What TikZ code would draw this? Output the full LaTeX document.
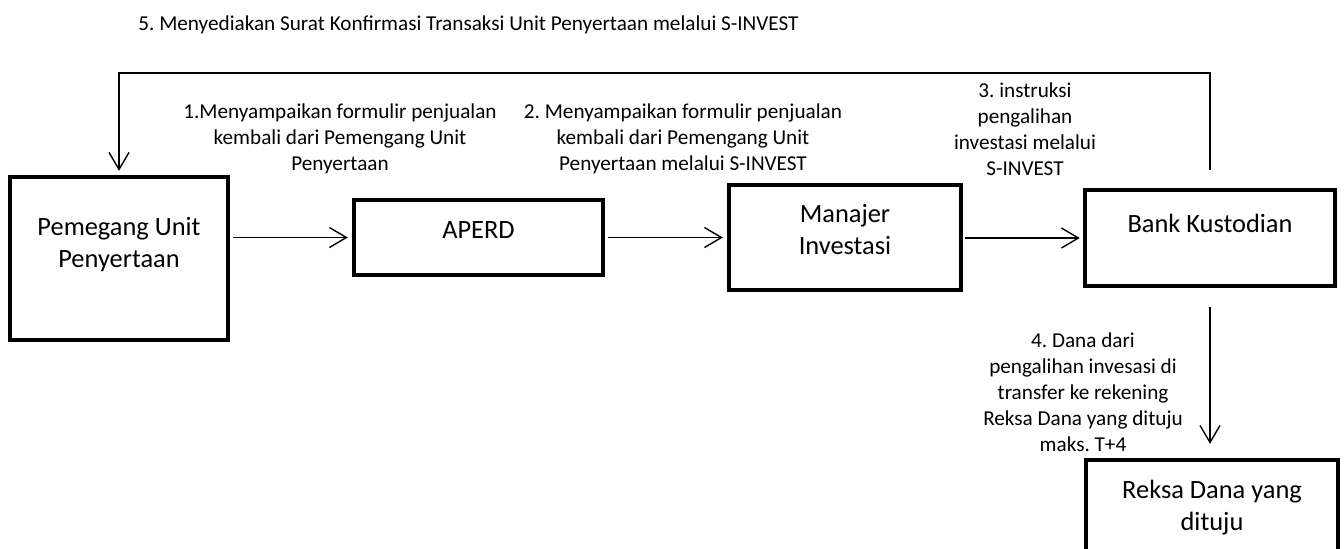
\documentclass[tikz,border=0pt]{standalone}
\usepackage{fontspec}
\setmainfont{Carlito}
\usetikzlibrary{arrows.meta,positioning}
\frenchspacing

\tikzset{
  box/.style={draw, line width=2.2pt, inner sep=0pt},
  boxtext/.style={align=center, font=\fontsize{13.2pt}{16pt}\selectfont},
  note/.style={align=center, font=\fontsize{10.6pt}{13pt}\selectfont, inner sep=0pt},
  arr/.style={-{Straight Barb[length=8.5pt,width=10pt]}, line width=0.7pt}
}

\begin{document}
\begin{tikzpicture}[x=0.5pt,y=-0.5pt]
\clip (0,0) rectangle (1344,548);

% boxes
\node[box, minimum width=109pt, minimum height=81.5pt, label={[boxtext,yshift=7pt]center:Pemegang Unit\\Penyertaan}] (peg) at (119,258.5) {};
\node[box, minimum width=124.5pt, minimum height=37.5pt, label={[boxtext,yshift=3.5pt]center:APERD}] (aperd) at (478.5,237.5) {};
\node[box, minimum width=116pt, minimum height=52.5pt, label={[boxtext,yshift=3.75pt]center:Manajer\\Investasi}] (mi) at (845,237.5) {};
\node[box, minimum width=125pt, minimum height=48pt, label={[boxtext,yshift=7.5pt]center:Bank Kustodian}] (bk) at (1210,238) {};
\node[box, minimum width=126pt, minimum height=57pt, label={[boxtext,yshift=4.5pt]center:Reksa Dana yang\\dituju}] (rd) at (1212,517) {};

% texts
\node[note, anchor=west] (l5) at (138,25) {5. Menyediakan Surat Konfirmasi Transaksi Unit Penyertaan melalui S-INVEST};
\node[note] (l1) at (340,139) {1.Menyampaikan formulir penjualan\\kembali dari Pemengang Unit\\Penyertaan};
\node[note] (l2) at (683,139) {2. Menyampaikan formulir penjualan\\kembali dari Pemengang Unit\\Penyertaan melalui S-INVEST};
\node[note] (l3) at (1025,129) {3. instruksi\\pengalihan\\investasi melalui\\S-INVEST};
\node[note] (l4) at (1083,392) {4. Dana dari\\pengalihan invesasi di\\transfer ke rekening\\Reksa Dana yang dituju\\maks. T+4};

% arrows
\coordinate (top) at (119,73);
\draw[arr, shorten <=9pt, shorten >=2pt] (bk.north) |- (top) -- (peg.north);
\draw[arr, shorten <=1.5pt, shorten >=2pt] (peg.east |- aperd) -- (aperd.west);
\draw[arr, shorten <=1.5pt, shorten >=2pt] (aperd.east) -- (mi.west);
\draw[arr, shorten <=1pt, shorten >=1.5pt] (mi.east |- bk) -- (bk.west);
\draw[arr, shorten <=9.5pt, shorten >=7pt] (bk.south) -- (bk.south |- rd.north);

\end{tikzpicture}
\end{document}
